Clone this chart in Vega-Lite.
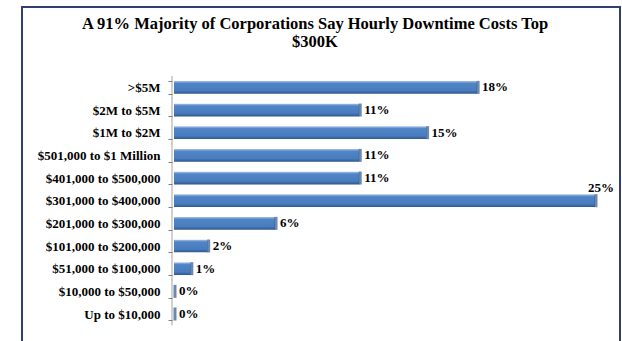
{
  "$schema": "https://vega.github.io/schema/vega-lite/v6.json",
  "autosize": "none",
  "width": 598,
  "height": 336,
  "padding": {"left": 22, "top": 7, "right": 2, "bottom": -2},
  "background": "white",
  "config": {
    "view": {"stroke": "#2f3f70", "strokeWidth": 2, "fill": "white"},
    "font": "Liberation Serif"
  },
  "title": {
    "text": ["A 91% Majority of Corporations Say Hourly Downtime Costs Top", "$300K"],
    "font": "Liberation Serif",
    "fontSize": 16.5,
    "fontWeight": "bold",
    "color": "black",
    "anchor": "middle",
    "frame": "group",
    "baseline": "bottom",
    "lineHeight": 18,
    "offset": -65,
    "dx": -6
  },
  "data": {
    "values": [
      {"range": ">$5M", "pct": 0.18},
      {"range": "$2M to $5M", "pct": 0.11},
      {"range": "$1M to $2M", "pct": 0.15},
      {"range": "$501,000 to $1 Million", "pct": 0.11},
      {"range": "$401,000 to $500,000", "pct": 0.11},
      {"range": "$301,000 to $400,000", "pct": 0.25},
      {"range": "$201,000 to $300,000", "pct": 0.06},
      {"range": "$101,000 to $200,000", "pct": 0.02},
      {"range": "$51,000 to $100,000", "pct": 0.01},
      {"range": "$10,000 to $50,000", "pct": 0},
      {"range": "Up to $10,000", "pct": 0}
    ]
  },
  "encoding": {
    "y": {
      "field": "range",
      "type": "nominal",
      "sort": null,
      "scale": {"range": [62.7, 324.7], "paddingInner": 0.44, "paddingOuter": 0.5, "align": 0.5},
      "axis": {
        "title": null,
        "domain": false,
        "offset": -150,
        "tickBand": "extent",
        "tickSize": 4,
        "tickColor": "#7f7f7f",
        "labelPadding": 8,
        "labelFont": "Liberation Serif",
        "labelFontSize": 13,
        "labelFontWeight": "bold",
        "labelColor": "black"
      }
    },
    "x": {
      "field": "pct",
      "type": "quantitative",
      "scale": {"domain": [-0.09026, 0.26485], "nice": false, "zero": false},
      "axis": null
    }
  },
  "layer": [
    {
      "mark": {"type": "tick", "orient": "vertical", "size": 23, "thickness": 1, "color": "#7f7f7f", "xOffset": -2},
      "encoding": {"x": {"datum": 0, "type": "quantitative"}}
    },
    {
      "mark": {
        "type": "bar",
        "color": {
          "gradient": "linear",
          "x1": 0, "y1": 0, "x2": 0, "y2": 1,
          "stops": [
            {"offset": 0, "color": "#a8c2e6"},
            {"offset": 0.18, "color": "#4f85c7"},
            {"offset": 0.75, "color": "#497cbd"},
            {"offset": 1, "color": "#2e568f"}
          ]
        }
      }
    },
    {
      "mark": {"type": "tick", "orient": "vertical", "size": 13, "thickness": 3, "color": "#2f5688", "xOffset": 1}
    },
    {
      "transform": [{"filter": "datum.pct < 0.25"}],
      "mark": {"type": "text", "align": "left", "baseline": "middle", "dx": 5, "font": "Liberation Serif", "fontSize": 13, "fontWeight": "bold", "color": "black"},
      "encoding": {"text": {"field": "pct", "type": "quantitative", "format": ".0%"}}
    },
    {
      "transform": [{"filter": "datum.pct >= 0.25"}],
      "mark": {"type": "text", "align": "left", "baseline": "middle", "dx": -7, "dy": -13, "font": "Liberation Serif", "fontSize": 13, "fontWeight": "bold", "color": "black"},
      "encoding": {"text": {"field": "pct", "type": "quantitative", "format": ".0%"}}
    }
  ]
}
